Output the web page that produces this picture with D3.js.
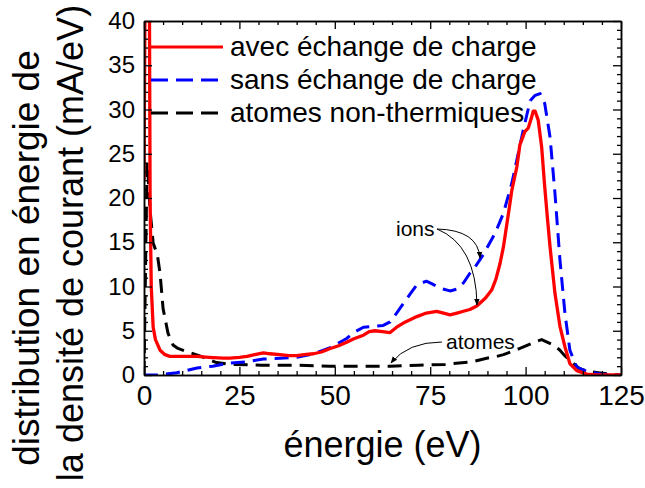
<!DOCTYPE html>
<html><head><meta charset="utf-8">
<script src="https://cdn.jsdelivr.net/npm/d3@7"></script>
<style>
body{margin:0;background:#fff;}
svg text{font-family:"Liberation Sans",Arial,Helvetica,sans-serif;fill:#000;}
</style></head>
<body><svg id="c" width="645" height="488"></svg>
<script>
// ---- data (energy in eV, current density in mA/eV) ----
const avecE = [0,0.3,1.4,1.6,1.9,2.4,3,4.2,5.5,6.8,10,13.9,17,20.8,22.5,25,27,29,31.3,33,35.6,38,40,42,44.4,46.5,48.8,51,53.1,55,57.5,59,60.5,62.5,64.5,66.2,68.5,71.5,74,76.7,78.5,80.2,82,83.7,85.4,87.2,88,89.5,91.1,92.2,93.3,94.2,95,95.7,96.4,97.7,98.5,99.8,100.7,101.5,102,102.5,103.3,104.2,105,105.7,106.4,107.7,109,110.3,111.6,113.4,116,118.6,125];
const avecV = [22,45,45,19.8,10,5.4,4.0,2.8,2.3,2.1,2.1,2.1,2.0,1.9,1.9,2.0,2.1,2.3,2.5,2.4,2.3,2.2,2.2,2.3,2.4,2.6,3.0,3.3,3.7,4.1,4.5,4.9,5.0,4.9,4.8,5.4,6.0,6.6,7.0,7.2,7.0,6.8,7.0,7.2,7.4,7.8,8.1,8.7,9.6,10.8,12.6,14.5,16.8,18.8,20.9,23.5,26.0,27.5,27.9,29,29.8,29.8,28.8,25.8,21.3,17.8,14.5,9.2,5.5,3.2,1.3,0.5,0.1,0,0];

const sansE = [0,3.5,8.6,13.9,18,22.5,27,31.3,35.6,40,44.4,48.8,53,55,57.5,60,62.7,64.5,66.2,68,70,71.5,74,75.5,77.6,80.2,82,83.7,85.4,86.3,88.9,92,94.2,96.4,97.7,99.4,101.2,102.5,103.8,105,106.4,107.7,109,110.3,111.6,113.4,116,120,124,125];
const sansV = [0,0,0.25,0.8,1.0,1.35,1.5,1.8,1.9,2.0,2.4,3.1,4.1,4.8,5.4,5.5,5.6,6.0,7.0,8.1,9.3,10.2,10.6,10.3,9.8,9.5,9.7,10.4,11.5,11.9,13.6,16,18.3,21.7,24.3,27.7,31,31.6,31.8,30.7,26.9,20.5,13,7,2.8,0.9,0.4,0.1,0,0];

const atomE = [0,0.5,0.8,1,1.6,2.4,3.5,4.2,5,6.3,7.6,8.9,11.5,15,19,22.5,31,40,48.8,57.5,64.5,72,79,86,89.8,92.4,94.2,98.5,102.9,104.2,107.3,109,110,112,114.2,116.5,120,124,125];
const atomV = [0,15,24,23,18.6,14.9,13.6,11.5,7.5,4.7,3.4,3.0,2.6,2.1,1.4,1.2,1.1,1.1,1.0,1.0,1.0,1.1,1.2,1.5,1.9,2.1,2.3,3.0,3.8,4.0,3.4,2.8,2.3,1.5,0.7,0.4,0.2,0,0];

const xTicks = [0,25,50,75,100,125];
const yTicks = [0,5,10,15,20,25,30,35,40];
const seriesNames = ["avec échange de charge","sans échange de charge","atomes non-thermiques"];
const seriesColors = ["#ff0000","#0000ff","#000000"];

// ---- layout ----
const svg = d3.select("#c");
const L=144, R=621, T=21, B=375;
const x = d3.scaleLinear().domain([0,125]).range([L,R]);
const y = d3.scaleLinear().domain([0,40]).range([B,T]);

const defs = svg.append("defs");
defs.append("clipPath").attr("id","clip")
  .append("rect").attr("x",L).attr("y",T).attr("width",R-L).attr("height",B-T);
defs.append("marker").attr("id","arr").attr("viewBox","0 0 10 10").attr("refX",9).attr("refY",5)
  .attr("markerWidth",7).attr("markerHeight",7).attr("orient","auto-start-reverse")
  .attr("markerUnits","userSpaceOnUse")
  .append("path").attr("d","M0,1 L10,5 L0,9 z").attr("fill","#000");

// ---- curves ----
const line = d3.line().x(d=>x(d[0])).y(d=>y(d[1]));
const g = svg.append("g").attr("clip-path","url(#clip)");
const series = [
  {e:atomE,v:atomV,c:seriesColors[2],dash:"14,8",w:3},
  {e:sansE,v:sansV,c:seriesColors[1],dash:"14,8",w:3},
  {e:avecE,v:avecV,c:seriesColors[0],dash:null,w:3.3}
];
series.forEach(s=>{
  g.append("path").datum(s.e.map((e,i)=>[e,s.v[i]]))
   .attr("d",line).attr("fill","none").attr("stroke",s.c).attr("stroke-width",s.w)
   .attr("stroke-dasharray",s.dash).attr("stroke-linejoin","round");
});

// ---- axes ----
const minorX = d3.range(0,126,5).filter(v=>v%25!==0);
const minorY = d3.range(0,41,1).filter(v=>v%5!==0);
function styleAxis(sel){
  sel.selectAll("path.domain").attr("stroke","#000").attr("stroke-width",1.5);
  sel.selectAll("line").attr("stroke","#000").attr("stroke-width",1.3);
}
// bottom
svg.append("g").attr("transform",`translate(0,${B})`)
  .call(d3.axisBottom(x).tickValues(minorX).tickSize(-4).tickSizeOuter(0).tickFormat(""))
  .call(styleAxis);
const bx = svg.append("g").attr("transform",`translate(0,${B})`)
  .call(d3.axisBottom(x).tickValues(xTicks).tickSize(-8).tickSizeOuter(0).tickPadding(10))
  .call(styleAxis);
bx.selectAll("text").attr("font-size",28);
// top
svg.append("g").attr("transform",`translate(0,${T})`)
  .call(d3.axisTop(x).tickValues(minorX).tickSize(-4).tickSizeOuter(0).tickFormat(""))
  .call(styleAxis);
svg.append("g").attr("transform",`translate(0,${T})`)
  .call(d3.axisTop(x).tickValues(xTicks).tickSize(-8).tickSizeOuter(0).tickFormat(""))
  .call(styleAxis);
// left
svg.append("g").attr("transform",`translate(${L},0)`)
  .call(d3.axisLeft(y).tickValues(minorY).tickSize(-4).tickSizeOuter(0).tickFormat(""))
  .call(styleAxis);
const ly = svg.append("g").attr("transform",`translate(${L},0)`)
  .call(d3.axisLeft(y).tickValues(yTicks).tickSize(-8).tickSizeOuter(0).tickPadding(9))
  .call(styleAxis);
ly.selectAll("text").attr("font-size",24);
// right
svg.append("g").attr("transform",`translate(${R},0)`)
  .call(d3.axisRight(y).tickValues(minorY).tickSize(-4).tickSizeOuter(0).tickFormat(""))
  .call(styleAxis);
svg.append("g").attr("transform",`translate(${R},0)`)
  .call(d3.axisRight(y).tickValues(yTicks).tickSize(-8).tickSizeOuter(0).tickFormat(""))
  .call(styleAxis);
svg.selectAll(".tick text").style("fill","#000");
svg.selectAll("g").attr("font-family",null);

// ---- axis titles ----
svg.append("text").attr("x",(L+R)/2).attr("y",457).attr("text-anchor","middle")
  .attr("font-size",36).text("énergie (eV)");
svg.append("text").attr("transform","translate(39,258) rotate(-90)").attr("text-anchor","middle")
  .attr("font-size",37).text("distribution en énergie de");
svg.append("text").attr("transform","translate(83,243) rotate(-90)").attr("text-anchor","middle")
  .attr("font-size",36).text("la densité de courant (mA/eV)");

// ---- legend ----
const legY = [47,80,113];
const legDash = [null,"17,8","17,8"];
seriesNames.forEach((n,i)=>{
  svg.append("line").attr("x1",151).attr("x2",223).attr("y1",legY[i]).attr("y2",legY[i])
    .attr("stroke",seriesColors[i]).attr("stroke-width",3).attr("stroke-dasharray",legDash[i]);
  svg.append("text").attr("x",230).attr("y",legY[i]+9).attr("font-size",28).text(n);
});

// ---- annotations ----
svg.append("text").attr("x",396).attr("y",236).attr("font-size",21).text("ions");
svg.append("text").attr("x",446).attr("y",349).attr("font-size",21).text("atomes");
const ann = svg.append("g").attr("fill","none").attr("stroke","#000").attr("stroke-width",1);
ann.append("path").attr("d",`M437,229 Q478,230 480,258`).attr("marker-end","url(#arr)");
ann.append("path").attr("d",`M437,229 Q476,245 477,305`).attr("marker-end","url(#arr)");
ann.append("path").attr("d",`M442,342 Q408,342 391,363`).attr("marker-end","url(#arr)");
</script></body></html>
